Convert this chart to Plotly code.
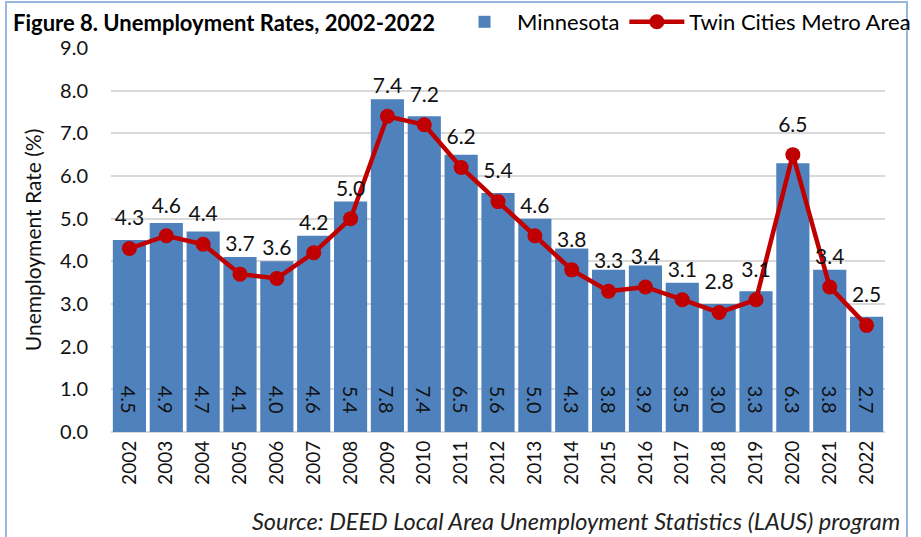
import plotly.graph_objects as go

years = [str(y) for y in range(2002, 2023)]
minnesota = [4.5, 4.9, 4.7, 4.1, 4.0, 4.6, 5.4, 7.8, 7.4, 6.5, 5.6, 5.0, 4.3, 3.8, 3.9, 3.5, 3.0, 3.3, 6.3, 3.8, 2.7]
twin_cities = [4.3, 4.6, 4.4, 3.7, 3.6, 4.2, 5.0, 7.4, 7.2, 6.2, 5.4, 4.6, 3.8, 3.3, 3.4, 3.1, 2.8, 3.1, 6.5, 3.4, 2.5]
y_ticks = [i * 1.0 for i in range(10)]

FONT = "Lato, 'Open Sans', sans-serif"
W, H = 921, 537
L, R, T, B = 111, 36, 48, 105
PW, PH = W - L - R, H - T - B

def px_x(p):
    return (p - L) / PW

def px_y(p):
    return (H - B - p) / PH

fig = go.Figure()
fig.add_trace(go.Bar(
    x=years, y=minnesota, name="Minnesota",
    marker=dict(color="#4F81BD", line=dict(width=0)),
    text=[f"{v:.1f}\u00a0\u00a0\u00a0" for v in minnesota],
    textposition="inside", insidetextanchor="start", textangle=90,
    textfont=dict(family=FONT, size=20, color="#111111"),
    cliponaxis=False,
))
fig.add_trace(go.Scatter(
    x=years, y=twin_cities, name="Twin Cities Metro Area",
    mode="lines+markers",
    line=dict(color="#C00000", width=4.5),
    marker=dict(color="#C00000", size=15),
    cliponaxis=False,
))
# data labels for the line, offset above the markers
fig.add_trace(go.Scatter(
    x=years, y=twin_cities, name="labels", showlegend=False, hoverinfo="skip",
    mode="markers+text",
    marker=dict(color="rgba(0,0,0,0)", size=27),
    text=[f"{v:.1f}" for v in twin_cities],
    textposition="top center",
    textfont=dict(family=FONT, size=21, color="#111111"),
    cliponaxis=False,
))

fig.add_annotation(xref="paper", yref="paper", x=px_x(11), y=px_y(22),
                   xanchor="left", yanchor="middle", showarrow=False,
                   text="<b>Figure 8. Unemployment Rates, 2002-2022</b>",
                   font=dict(family=FONT, size=22, color="#000000"))
fig.add_annotation(xref="paper", yref="paper", x=px_x(902), y=px_y(521),
                   xanchor="right", yanchor="middle", showarrow=False,
                   text="<i>Source: DEED Local Area Unemployment Statistics (LAUS) program</i>",
                   font=dict(family=FONT, size=23.5, color="#222222"))
fig.add_shape(type="rect", xref="paper", yref="paper",
              x0=px_x(6), x1=px_x(907), y0=px_y(560), y1=px_y(2),
              line=dict(color="#9BB7DD", width=2), layer="below")

fig.update_layout(
    width=W, height=H,
    margin=dict(l=L, r=R, t=T, b=B, autoexpand=False),
    paper_bgcolor="white", plot_bgcolor="white",
    bargap=0.1,
    font=dict(family=FONT, size=18, color="#111111"),
    showlegend=True,
    legend=dict(orientation="h", x=px_x(452), y=px_y(22), xanchor="left", yanchor="middle",
                font=dict(family=FONT, size=22, color="#000000"),
                itemwidth=55, tracegroupgap=0, bgcolor="rgba(0,0,0,0)"),
    xaxis=dict(type="category", range=[-0.5, 20.5], tickangle=-90, showgrid=False, showline=False,
               ticks="", ticklabelstandoff=4, tickfont=dict(family=FONT, size=19, color="#111111")),
    yaxis=dict(range=[0, 9], tickvals=y_ticks, tickformat=".1f",
               showgrid=True, gridcolor="#D9D9D9", gridwidth=2,
               zeroline=True, zerolinecolor="#D9D9D9", zerolinewidth=2,
               showline=False, ticks="", ticklen=0, ticklabelstandoff=22,
               tickfont=dict(family=FONT, size=20, color="#111111"),
               title=dict(text="Unemployment Rate (%)", font=dict(family=FONT, size=21, color="#111111"), standoff=12)),
)

fig.write_html("out.html", config={"displayModeBar": False},
               post_script="document.body.style.margin='0px';document.body.style.overflow='hidden';")
